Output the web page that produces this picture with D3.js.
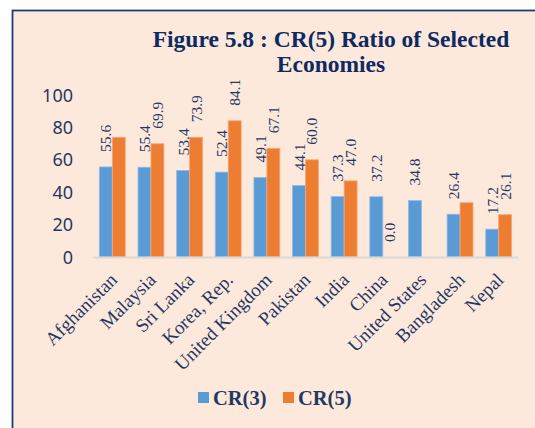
<!DOCTYPE html>
<html>
<head>
<meta charset="utf-8">
<script src="https://cdn.jsdelivr.net/npm/d3@7/dist/d3.min.js"></script>
<style>
  html, body { margin: 0; padding: 0; background: #ffffff; }
  svg { display: block; }
</style>
</head>
<body>
<svg id="chart" width="535" height="428"></svg>
<script>
// ---- data ----
const categories = ["Afghanistan", "Malaysia", "Sri Lanka", "Korea, Rep.", "United Kingdom",
  "Pakistan", "India", "China", "United States", "Bangladesh", "Nepal"];
const cr3 = [55.6, 55.4, 53.4, 52.4, 49.1, 44.1, 37.3, 37.2, 34.8, 26.4, 17.2];
const cr5 = [73.9, 69.9, 73.9, 84.1, 67.1, 60.0, 47.0, 0.0, null, 33.5, 26.1];
// data labels as shown on the chart (some bars are unlabelled)
const cr3Labels = ["55.6", "55.4", "53.4", "52.4", "49.1", "44.1", "37.3", "37.2", "34.8", "26.4", "17.2"];
const cr5Labels = [null, "69.9", "73.9", "84.1", "67.1", "60.0", "47.0", "0.0", null, null, "26.1"];
const seriesNames = ["CR(3)", "CR(5)"];
const yTicks = [0, 20, 40, 60, 80, 100];
const titleLines = ["Figure 5.8 : CR(5) Ratio of Selected", "Economies"];

// ---- styles ----
const colors = ["#5b9bd5", "#ed7d31"];
const strokes = ["#8fbbe3", "#f4a97a"];
const navy = "#1f3864";
const titleColor = "#0e2a62";
const serif = "'Liberation Serif', 'Times New Roman', serif";
const sans = "'Noto Sans', 'Open Sans', sans-serif";

const svg = d3.select("#chart");

// frame
svg.append("rect").attr("x", 0).attr("y", 0).attr("width", 535).attr("height", 428).attr("fill", "#ffffff");
svg.append("rect")
  .attr("x", 12.5).attr("y", 10.5).attr("width", 540).attr("height", 430)
  .attr("fill", "#fde9dc").attr("stroke", "#1f3a7a").attr("stroke-width", 1.8);

// title
const title = svg.append("text")
  .attr("font-family", serif).attr("font-weight", "bold").attr("font-size", 23.5)
  .attr("fill", titleColor).attr("text-anchor", "middle");
titleLines.forEach((t, i) => {
  title.append("tspan").attr("x", 331).attr("y", 46.5 + i * 25.5).text(t);
});

// scales
const x0 = d3.scaleBand().domain(categories).range([93, 518]).paddingInner(0.33).paddingOuter(0.165);
const x1 = d3.scaleBand().domain([0, 1]).range([0, x0.bandwidth()]).padding(0);
const y = d3.scaleLinear().domain([0, 100]).range([257, 95]);

// y axis
const yAxis = d3.axisLeft(y).tickValues(yTicks).tickSize(0).tickPadding(0);
const gy = svg.append("g").attr("transform", "translate(73,0)").call(yAxis);
gy.select(".domain").remove();
gy.selectAll("text")
  .attr("font-family", sans).attr("font-size", 18).attr("fill", navy)
  .attr("dy", "0.34em");

// bars
const series = [cr3, cr5];
const labels = [cr3Labels, cr5Labels];
series.forEach((vals, s) => {
  svg.append("g").selectAll("rect")
    .data(categories.map((c, i) => ({ c, v: vals[i] })).filter(d => d.v !== null && d.v > 0))
    .join("rect")
    .attr("x", d => x0(d.c) + x1(s))
    .attr("y", d => y(d.v))
    .attr("width", x1.bandwidth())
    .attr("height", d => y(0) - y(d.v))
    .attr("fill", colors[s])
    .attr("stroke", strokes[s]).attr("stroke-width", 0.8);
});

// baseline
svg.append("line")
  .attr("x1", 93).attr("x2", 518).attr("y1", y(0) + 0.5).attr("y2", y(0) + 0.5)
  .attr("stroke", "#d9d9d9").attr("stroke-width", 1.8);

// data labels
series.forEach((vals, s) => {
  svg.append("g").selectAll("text")
    .data(categories.map((c, i) => ({ c, v: vals[i], l: labels[s][i] })).filter(d => d.l !== null))
    .join("text")
    .attr("transform", d => `translate(${x0(d.c) + x1(s) + x1.bandwidth() / 2 + 5.5},${y(d.v) - 15}) rotate(-90)`)
    .attr("font-family", serif).attr("font-size", 15.5).attr("fill", navy)
    .attr("text-anchor", "start")
    .text(d => d.l);
});

// category labels
svg.append("g").selectAll("text")
  .data(categories)
  .join("text")
  .attr("transform", d => `translate(${x0(d) + x0.bandwidth() / 2 + 6},${281}) rotate(-45)`)
  .attr("font-family", serif).attr("font-size", 19).attr("fill", navy)
  .attr("text-anchor", "end")
  .text(d => d);

// legend
const legendX = [198, 283];
seriesNames.forEach((n, i) => {
  svg.append("rect").attr("x", legendX[i]).attr("y", 392).attr("width", 11).attr("height", 11).attr("fill", colors[i]);
  svg.append("text").attr("x", legendX[i] + 15).attr("y", 405)
    .attr("font-family", serif).attr("font-weight", "bold").attr("font-size", 20.5).attr("fill", navy)
    .text(n);
});
</script>
</body>
</html>
